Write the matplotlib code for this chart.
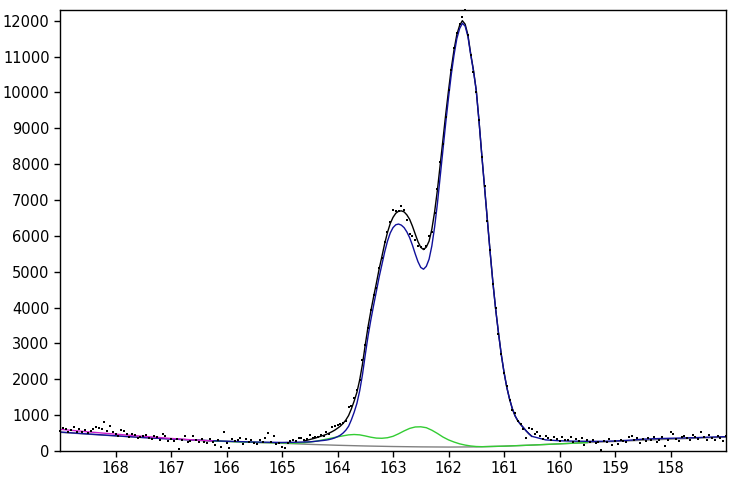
import numpy as np
import matplotlib
matplotlib.use('Agg')
import matplotlib.pyplot as plt

# measured points, 169.00 -> 157.00 eV in 0.05 eV steps
energy = np.round(np.arange(169.0, 156.999, -0.05), 2)
counts = [
    560, 640, 610, 520, 590, 660, 540, 600, 520, 580, 500, 560, 620, 680, 650, 600, 800, 560, 700, 520,
    470, 430, 580, 560, 470, 390, 470, 440, 360, 400, 430, 460, 370, 330, 420, 380, 320, 470, 410, 290,
    330, 280, 330, 60, 300, 410, 240, 280, 410, 300, 240, 340, 250, 220, 330, 260, 170, 300, 120, 530,
    220, 80, 330, 280, 310, 350, 200, 330, 260, 310, 230, 200, 310, 250, 370, 500, 260, 420, 190, 230,
    120, 80, 230, 270, 310, 280, 350, 360, 310, 330, 440, 350, 390, 380, 450, 420, 540, 470, 660, 700,
    720, 760, 790, 830, 1230, 1250, 1480, 1700, 1980, 2550, 2950, 3420, 3930, 4350, 4560, 5100, 5380, 5830, 6100, 6380,
    6720, 6700, 6690, 6830, 6710, 6450, 6050, 6000, 5880, 5720, 5700, 5640, 5720, 6010, 6120, 6640, 7300, 8050, 8560, 9320,
    10080, 10620, 11250, 11650, 11900, 12100, 12290, 11600, 11050, 10580, 10000, 9230, 8200, 7380, 6420, 5600, 4650, 3980, 3260, 2700,
    2180, 1800, 1420, 1150, 1050, 830, 760, 620, 350, 640, 600, 470, 520, 410, 330, 420, 360, 310, 400, 340,
    290, 380, 320, 310, 390, 240, 330, 280, 350, 180, 300, 260, 320, 220, 260, 30, 290, 240, 330, 160,
    280, 200, 320, 270, 250, 390, 420, 300, 360, 210, 340, 280, 350, 320, 400, 250, 300, 380, 150, 310,
    520, 470, 330, 280, 390, 420, 360, 300, 450, 380, 330, 540, 400, 310, 460, 360, 300, 420, 350, 290, 430,
]

# background (gray)
bg_x = [169.0, 168.5, 168.0, 167.5, 167.0, 166.5, 166.0, 165.5, 165.0, 164.5, 164.0, 163.5, 163.0,
        162.5, 162.0, 161.5, 161.0, 160.5, 160.0, 159.5, 159.0, 158.5, 158.0, 157.5, 157.0]
bg_y = [520, 470, 420, 375, 335, 300, 270, 240, 215, 185, 160, 140, 125,
        115, 110, 115, 135, 165, 200, 235, 265, 300, 330, 360, 385]

# left-side fit (magenta)
mag_x = [169.0, 168.5, 168.0, 167.5, 167.0, 166.5, 166.25]
mag_y = [605, 535, 470, 410, 350, 300, 280]

# main doublet component (blue)
blue_x = [169.0, 168.5, 168.0, 167.5, 167.0, 166.5, 166.0, 165.5, 165.0, 164.75,
          164.50, 164.45, 164.40, 164.35, 164.30, 164.25, 164.20, 164.15, 164.10, 164.05,
          164.00, 163.95, 163.90, 163.85, 163.80, 163.75, 163.70, 163.65, 163.60, 163.55,
          163.50, 163.45, 163.40, 163.35, 163.30, 163.25, 163.20, 163.15, 163.10, 163.05,
          163.00, 162.95, 162.90, 162.85, 162.80, 162.75, 162.70, 162.65, 162.60, 162.55,
          162.50, 162.45, 162.40, 162.35, 162.30, 162.25, 162.20, 162.15, 162.10, 162.05,
          162.00, 161.95, 161.90, 161.85, 161.80, 161.75, 161.70, 161.65, 161.60, 161.55,
          161.50, 161.45, 161.40, 161.35, 161.30, 161.25, 161.20, 161.15, 161.10, 161.05,
          161.00, 160.95, 160.90, 160.85, 160.80, 160.75, 160.70, 160.65, 160.60, 160.55,
          160.50, 160.25, 160.0, 159.75, 159.5, 159.25, 159.0, 158.75, 158.5, 158.25,
          158.0, 157.75, 157.5, 157.25, 157.0]
blue_y = [530, 475, 425, 375, 335, 300, 272, 250, 238, 245,
          255, 262, 270, 278, 287, 295, 305, 320, 340, 365,
          400, 440, 500, 580, 690, 870, 1080, 1330, 1680, 2130,
          2680, 3200, 3650, 4060, 4450, 4850, 5200, 5550, 5850, 6080,
          6230, 6310, 6330, 6300, 6230, 6110, 5950, 5740, 5500, 5280,
          5120, 5070, 5150, 5350, 5720, 6250, 6900, 7650, 8400, 9150,
          9850, 10500, 11050, 11500, 11780, 11930, 11850, 11560, 11050, 10600,
          10050, 9200, 8250, 7350, 6450, 5550, 4700, 3950, 3300, 2700,
          2200, 1780, 1450, 1180, 980, 840, 740, 650, 560, 480,
          410, 310, 285, 275, 270, 270, 280, 300, 330, 345,
          355, 365, 375, 390, 400]

# second doublet component (green)
green_x = [166.5, 166.0, 165.5, 165.0, 164.8, 164.6, 164.4, 164.2, 164.0, 163.8, 163.7, 163.6,
           163.5, 163.4, 163.3, 163.2, 163.1, 163.0, 162.9, 162.8, 162.7, 162.6, 162.5,
           162.4, 162.3, 162.2, 162.1, 162.0, 161.9, 161.8, 161.7, 161.6, 161.5, 161.4,
           161.0, 160.5, 160.0, 159.5]
green_y = [295, 265, 242, 226, 218, 230, 270, 330, 395, 450, 460, 450,
           420, 385, 360, 355, 370, 410, 480, 560, 630, 670, 675,
           650, 580, 490, 390, 310, 250, 200, 165, 140, 125, 120,
           135, 165, 200, 235]

# envelope (black)
env_x = [164.60, 164.55,
         164.50, 164.45, 164.40, 164.35, 164.30, 164.25, 164.20, 164.15, 164.10, 164.05,
         164.00, 163.95, 163.90, 163.85, 163.80, 163.75, 163.70, 163.65, 163.60, 163.55,
         163.50, 163.45, 163.40, 163.35, 163.30, 163.25, 163.20, 163.15, 163.10, 163.05,
         163.00, 162.95, 162.90, 162.85, 162.80, 162.75, 162.70, 162.65, 162.60, 162.55,
         162.50, 162.45, 162.40, 162.35, 162.30, 162.25, 162.20, 162.15, 162.10, 162.05,
         162.00, 161.95, 161.90, 161.85, 161.80, 161.75, 161.70, 161.65, 161.60, 161.55,
         161.50, 161.45, 161.40, 161.35, 161.30, 161.25, 161.20, 161.15, 161.10, 161.05,
         161.00, 160.95, 160.90, 160.85, 160.80, 160.75, 160.70, 160.65, 160.60, 160.55, 160.50]
env_y = [280, 300,
         320, 340, 360, 386, 412, 437, 465, 500, 538, 581,
         635, 692, 768, 864, 990, 1176, 1392, 1639, 1985, 2422,
         2960, 3464, 3898, 4298, 4677, 5076, 5425, 5784, 6093, 6344,
         6515, 6631, 6687, 6698, 6669, 6585, 6461, 6272, 6053, 5837,
         5680, 5618, 5686, 5852, 6187, 6672, 7278, 7978, 8679, 9390,
         10050, 10670, 11190, 11615, 11870, 12002, 11904, 11601, 11078, 10619,
         10060, 9200, 8250, 7350, 6450, 5550, 4700, 3950, 3300, 2700,
         2200, 1780, 1450, 1180, 980, 840, 740, 650, 560, 480, 410]

fig = plt.figure(figsize=(7.36, 4.79), dpi=100)
ax = fig.add_axes([60 / 736, 28 / 479, 666 / 736, 441 / 479])

ax.plot(bg_x, bg_y, color='#808080', lw=1.0)
ax.plot(green_x, green_y, color='#33cc33', lw=1.0)
ax.plot(env_x, env_y, color='black', lw=1.0)
ax.plot(blue_x, blue_y, color='#10109a', lw=1.0)
ax.plot(mag_x, mag_y, color='#cc22cc', lw=1.0)
ax.plot(energy, counts, 's', color='black', markersize=1.9, markeredgewidth=0, clip_on=False)

ax.set_xlim(169, 157)
ax.set_ylim(0, 12300)
ax.set_xticks(range(168, 157, -1))
ax.set_yticks(range(0, 12001, 1000))
ax.tick_params(direction='out', length=4, width=1, labelsize=10.5, colors='black')
for s in ax.spines.values():
    s.set_linewidth(1.0)

fig.savefig('out.png', dpi=100)
